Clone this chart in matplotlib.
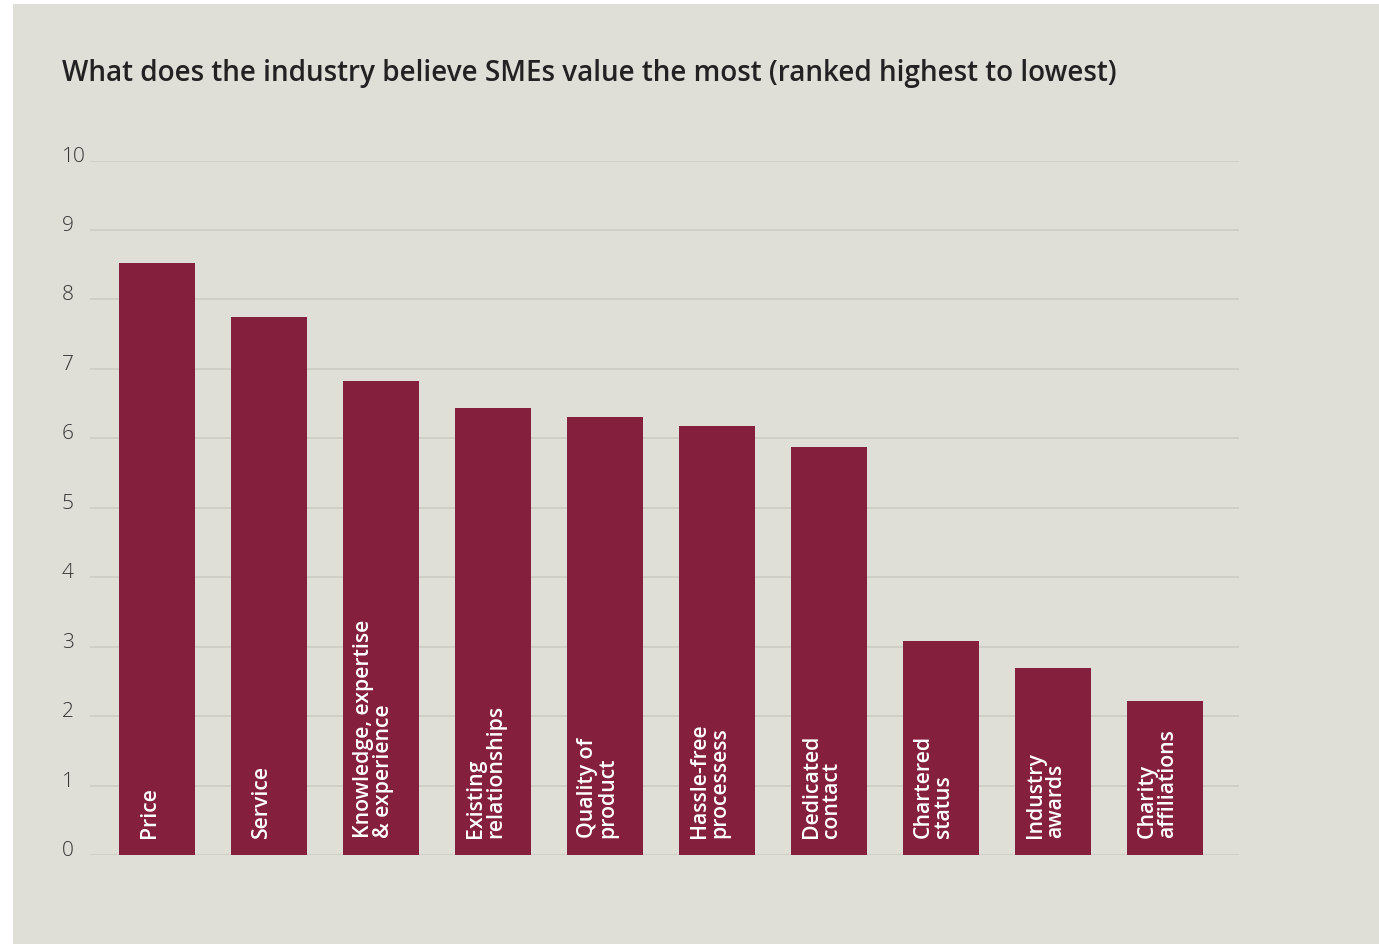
import matplotlib
matplotlib.use("Agg")
import matplotlib.pyplot as plt
from matplotlib.patches import Rectangle

categories = [
    "Price",
    "Service",
    "Knowledge, expertise\n& experience",
    "Existing\nrelationships",
    "Quality of\nproduct",
    "Hassle-free\nprocessess",
    "Dedicated\ncontact",
    "Chartered\nstatus",
    "Industry\nawards",
    "Charity\naffiliations",
]
values = [8.52, 7.75, 6.82, 6.43, 6.31, 6.18, 5.88, 3.08, 2.69, 2.22]
y_ticks = list(range(0, 11))
title = "What does the industry believe SMEs value the most (ranked highest to lowest)"

BG = "#dfdfd8"
BAR = "#841f3d"
GRID = "#cfcec5"
TXT = "#222222"
FONT = "Open Sans"

W, H = 1379, 945
fig = plt.figure(figsize=(W / 100, H / 100), dpi=100, facecolor="white")
fig.patches.append(Rectangle((13 / W, 0), 1 - 13 / W, (H - 5) / H,
                             transform=fig.transFigure, facecolor=BG,
                             edgecolor="none", zorder=-10))

ax = fig.add_axes([90 / W, (H - 856) / H, (1239 - 90) / W, (856 - 161.5) / H])
ax.set_zorder(5)
ax.set_facecolor("none")
x = list(range(len(categories)))
ax.bar(x, values, width=0.68, color=BAR, zorder=3)
ax.set_xlim(-0.6, 9.66)
ax.set_ylim(0, 10)
ax.set_yticks(y_ticks)
ax.set_yticklabels([str(t) for t in y_ticks])
ax.set_xticks([])
ax.grid(axis="y", color=GRID, linewidth=1.3, zorder=0)
ax.set_axisbelow(True)
for s in ax.spines.values():
    s.set_visible(False)
ax.tick_params(axis="y", length=0, pad=20.2, labelsize=15, labelcolor="#333333")
for lab in ax.get_yticklabels():
    lab.set_horizontalalignment("left")
    lab.set_verticalalignment("baseline")
    lab.set_fontfamily(FONT)
    lab.set_fontweight("light")

for xi, lab in zip(x, categories):
    ax.text(xi - 0.07, 0.26, lab, rotation=90, ha="center", va="bottom",
            multialignment="left", color="white", fontsize=15.3, family=FONT,
            fontweight="semibold", linespacing=0.95, zorder=4)

fig.text(62 / W, (H - 81) / H, title, ha="left", va="baseline",
         fontsize=20.1, family=FONT, fontweight="semibold", color=TXT)

fig.savefig("out.png", dpi=100, facecolor="white")
